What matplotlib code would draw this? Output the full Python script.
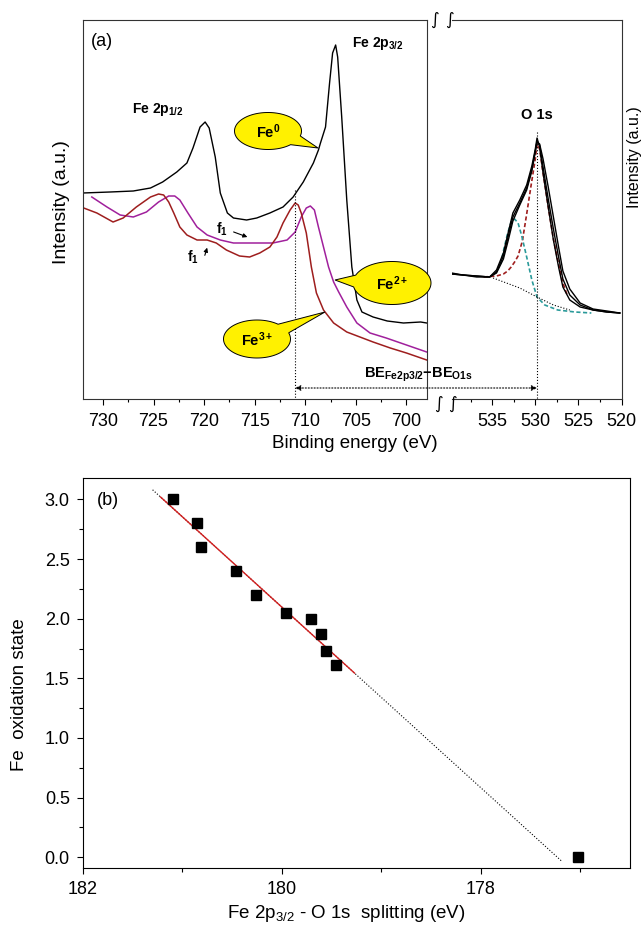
import numpy as np
import matplotlib
matplotlib.use('Agg')
import matplotlib.pyplot as plt
from matplotlib.patches import Polygon, ConnectionPatch
from matplotlib.ticker import MultipleLocator

plt.rcParams['font.family'] = ['Liberation Sans', 'DejaVu Sans']
plt.rcParams['mathtext.default'] = 'regular'

# ---------------- panel (a): Fe 2p spectra (binding energy eV, intensity a.u.)
fe0_be = [732.0, 729.3, 727.0, 725.3, 724.1, 722.7, 721.7, 721.1, 720.4, 719.9, 719.5, 718.9,
          718.4, 717.7, 717.1, 715.8, 714.8, 713.5, 712.2, 711.2, 710.2, 709.2, 708.7, 708.5,
          708.0, 707.6, 707.3, 707.0, 706.8, 706.4, 705.9, 705.4, 704.9, 704.4, 703.3, 701.9,
          700.3, 698.6, 698.0]
fe0_int = [206, 207, 208, 211, 217, 227, 236, 251, 272, 277, 271, 242,
           206, 186, 181, 179, 181, 186, 192, 202, 217, 236, 249, 256,
           272, 316, 346, 354, 342, 282, 199, 132, 99, 87, 82, 78,
           76, 77, 76]

fe2_be = [731.1, 729.6, 728.3, 727.0, 725.7, 724.5, 723.5, 722.9, 722.4, 721.6, 720.7, 719.7,
          718.4, 717.1, 715.8, 714.4, 713.2, 711.8, 711.0, 710.4, 709.9, 709.5, 709.1, 708.7,
          708.2, 707.7, 707.2, 706.7, 705.9, 704.9, 703.6, 702.0, 700.0, 698.0]
fe2_int = [202, 192, 184, 182, 187, 197, 203, 203, 199, 186, 172, 164,
           159, 156, 156, 156, 156, 159, 167, 182, 191, 193, 189, 172,
           152, 132, 117, 107, 92, 76, 66, 61, 54, 47]

fe3_be = [731.9, 730.6, 729.0, 728.0, 726.7, 725.3, 724.5, 724.0, 723.5, 723.0, 722.4, 721.7,
          720.7, 719.7, 718.8, 717.8, 716.5, 715.5, 714.5, 713.5, 712.8, 712.2, 711.5, 711.0,
          710.7, 710.4, 709.9, 709.4, 708.9, 708.2, 707.2, 705.9, 704.6, 703.3, 701.6, 700.0,
          698.0]
fe3_int = [191, 186, 177, 181, 192, 202, 205, 204, 197, 186, 172, 164,
           159, 159, 156, 149, 143, 142, 146, 152, 162, 176, 189, 196,
           194, 186, 166, 132, 106, 89, 76, 67, 62, 57, 51, 46,
           39]

# ---------------- panel (a): O 1s region
o1s_be = [539.7, 538.4, 536.8, 535.3, 534.5, 533.7, 533.1, 532.6, 531.8, 531.0, 530.4, 530.0,
          529.8, 529.5, 529.1, 528.5, 527.9, 527.3, 526.8, 526.0, 524.8, 523.3, 521.7, 520.2]
o1s_int_a = [126, 124, 122, 122, 129, 146, 168, 186, 199, 214, 233, 250,
             261, 252, 226, 192, 159, 132, 112, 99, 92, 89, 87, 86]
o1s_int_b = [125, 124, 123, 122, 126, 140, 160, 178, 194, 209, 228, 247,
             258, 254, 232, 200, 170, 142, 120, 104, 94, 89, 87, 86]
o1s_int_c = [125, 124, 123, 122, 127, 143, 164, 182, 196, 211, 230, 248,
             257, 255, 240, 212, 182, 152, 128, 110, 96, 90, 88, 86]

lat_be = [536.0, 534.5, 533.7, 533.2, 532.8, 532.4, 532.0, 531.5, 531.0, 530.5, 530.0, 529.8,
          529.5, 529.1, 528.5, 527.9, 527.3, 526.8, 526.3]
lat_int = [122, 123, 125, 128, 132, 137, 143, 158, 185, 213, 240, 255,
           250, 226, 192, 160, 135, 116, 104]

oh_be = [534.0, 533.7, 533.2, 532.8, 532.4, 532.0, 531.6, 531.0, 530.4, 529.8, 528.9, 527.4,
         525.4, 523.5]
oh_int = [135, 148, 166, 177, 180, 176, 164, 142, 119, 102, 94, 89,
          87, 86]

bg_be = [534.9, 531.8, 529.8, 527.9, 526.0]
bg_int = [121, 111, 102, 94, 89]

FE3_PEAK = 711.0
O1S_PEAK = 529.8

# ---------------- panel (b): oxidation state vs splitting
split = [181.10, 180.85, 180.81, 180.46, 180.26, 179.96, 179.71, 179.61, 179.56, 179.46, 177.02]
ox_state = [3.0, 2.8, 2.6, 2.4, 2.2, 2.05, 2.0, 1.87, 1.73, 1.61, 0.0]
fit_slope = 0.757
fit_zero = 177.23
fit_red_range = [181.22, 179.27]
fit_dot_range = [181.30, 177.19]

W, H = 643, 931
YELLOW = '#fff100'
C_FE2 = '#a0209c'
C_FE3 = '#9e1e1e'


def fbox(l, t, r, b):
    return [l / W, 1 - b / H, (r - l) / W, (b - t) / H]


fig = plt.figure(figsize=(W / 100, H / 100), dpi=100)

ax1 = fig.add_axes(fbox(82.7, 20, 426.7, 399))
ax2 = fig.add_axes(fbox(452, 20, 621.5, 399))

ax1.plot(fe0_be, fe0_int, color='k', lw=1.0)
ax1.plot(fe2_be, fe2_int, color=C_FE2, lw=1.1)
ax1.plot(fe3_be, fe3_int, color=C_FE3, lw=1.1)
ax1.plot([FE3_PEAK, FE3_PEAK], [209, 0], color='k', ls=':', lw=0.8)

ax2.plot(lat_be, lat_int, color='#a01f1f', ls=(0, (2.5, 1.5)), lw=1.2)
ax2.plot(oh_be, oh_int, color='#2a9a9a', ls=(0, (2.5, 1.5)), lw=1.2)
for yy in (o1s_int_a, o1s_int_b, o1s_int_c):
    ax2.plot(o1s_be, yy, color='k', lw=1.0)
ax2.plot(bg_be, bg_int, color='k', ls=':', lw=0.8)
ax2.plot([O1S_PEAK, O1S_PEAK], [267, 0], color='k', ls=':', lw=0.8)

ax1.set_xlim(732, 698)
ax2.set_xlim(520 + (621.5 - 452) / 8.62, 520)
for ax in (ax1, ax2):
    ax.set_ylim(0, 379)
    ax.set_yticks([])
    ax.xaxis.set_major_locator(MultipleLocator(5))
    ax.xaxis.set_minor_locator(MultipleLocator(2.5))
    ax.tick_params(axis='x', which='major', direction='out', length=4, width=0.8,
                   labelsize=13, pad=6)
    ax.tick_params(axis='x', which='minor', direction='out', length=2.5, width=0.8)
    for s in ax.spines.values():
        s.set_linewidth(0.8)
        s.set_color('#333333')
ax2.spines['left'].set_visible(False)

# double arrow between the two peaks
con = ConnectionPatch(xyA=(FE3_PEAK, 11), coordsA=ax1.transData,
                      xyB=(O1S_PEAK, 11), coordsB=ax2.transData,
                      arrowstyle='<|-|>', ls=':', lw=0.8, color='k',
                      mutation_scale=8, shrinkA=0, shrinkB=0)
fig.add_artist(con)

# overlay in pixel units for annotations
ov = fig.add_axes([0, 0, 1, 1], zorder=5)
ov.set_xlim(0, W)
ov.set_ylim(H, 0)
ov.axis('off')


def bubble(cx, cy, w, h, tip, label, d=0.28):
    ang = np.arctan2((tip[1] - cy) / (h / 2), (tip[0] - cx) / (w / 2))
    t = np.linspace(ang + d, ang + 2 * np.pi - d, 120)
    pts = np.column_stack([cx + w / 2 * np.cos(t), cy + h / 2 * np.sin(t)])
    pts = np.vstack([pts, tip])
    ov.add_patch(Polygon(pts, closed=True, fc=YELLOW, ec='k', lw=0.7))
    ov.text(cx, cy + 1, label, ha='center', va='center', fontsize=10.5, fontweight='bold')


bubble(268, 131, 67, 37, (318, 148), 'Fe$^{0}$')
bubble(392, 283, 78, 43, (335, 280), 'Fe$^{2+}$')
bubble(257, 339, 67, 38, (325, 312), 'Fe$^{3+}$')

ov.text(102, 41, '(a)', ha='center', va='center', fontsize=13)
ov.text(158, 110, 'Fe 2p$_{1/2}$', ha='center', va='center', fontsize=10, fontweight='bold')
ov.text(378, 44, 'Fe 2p$_{3/2}$', ha='center', va='center', fontsize=10, fontweight='bold')
ov.text(537, 115, 'O 1s', ha='center', va='center', fontsize=10.5, fontweight='bold')
ov.text(418, 375, 'BE$_{Fe2p3/2}$$-$BE$_{O1s}$', ha='center', va='center',
        fontsize=10.5, fontweight='bold')
ov.text(222, 229, 'f$_1$', ha='center', va='center', fontsize=10, fontweight='bold')
ov.text(193, 257, 'f$_1$', ha='center', va='center', fontsize=10, fontweight='bold')
ov.annotate('', xy=(250, 238), xytext=(231, 231),
            arrowprops=dict(arrowstyle='-|>', lw=0.8, color='k', mutation_scale=6))
ov.annotate('', xy=(208, 245), xytext=(204, 258),
            arrowprops=dict(arrowstyle='-|>', lw=0.8, color='k', mutation_scale=6))
for bx, by in ((434, 20), (449, 20), (438, 404), (452, 404)):
    ov.text(bx, by, '\u222b', ha='center', va='center', fontsize=12,
            family=['DejaVu Sans'], fontstyle='italic')

ov.text(62, 202, 'Intensity (a.u.)', rotation=90, ha='center', va='center', fontsize=14)
ov.text(635, 157, 'Intensity (a.u.)', rotation=90, ha='center', va='center', fontsize=11.5)
ov.text(355, 443, 'Binding energy (eV)', ha='center', va='center', fontsize=13.5)

# ---------------- panel (b)
axb = fig.add_axes(fbox(83, 478, 630, 868))
xr = np.array(fit_dot_range)
axb.plot(xr, fit_slope * (xr - fit_zero), color='k', ls=':', lw=0.8)
xr = np.array(fit_red_range)
axb.plot(xr, fit_slope * (xr - fit_zero), color='#d42020', lw=1.0)
axb.plot(split, ox_state, 's', color='k', ms=7)

axb.set_xlim(182, 176.5)
axb.set_ylim(-0.09, 3.18)
axb.set_xticks([182, 180, 178])
axb.xaxis.set_minor_locator(MultipleLocator(1))
axb.yaxis.set_major_locator(MultipleLocator(0.5))
axb.yaxis.set_minor_locator(MultipleLocator(0.25))
axb.tick_params(which='major', direction='out', length=4.5, width=0.8, labelsize=13, pad=5)
axb.tick_params(which='minor', direction='out', length=3, width=0.8)
for s in axb.spines.values():
    s.set_linewidth(0.8)
axb.text(0.025, 0.965, '(b)', transform=axb.transAxes, ha='left', va='top', fontsize=13)

ov.text(20, 695, 'Fe  oxidation state', rotation=90, ha='center', va='center', fontsize=13.5)
ov.text(346, 913, 'Fe 2p$_{3/2}$ - O 1s  splitting (eV)', ha='center', va='center', fontsize=13.5)

fig.savefig('out.png', dpi=100)
